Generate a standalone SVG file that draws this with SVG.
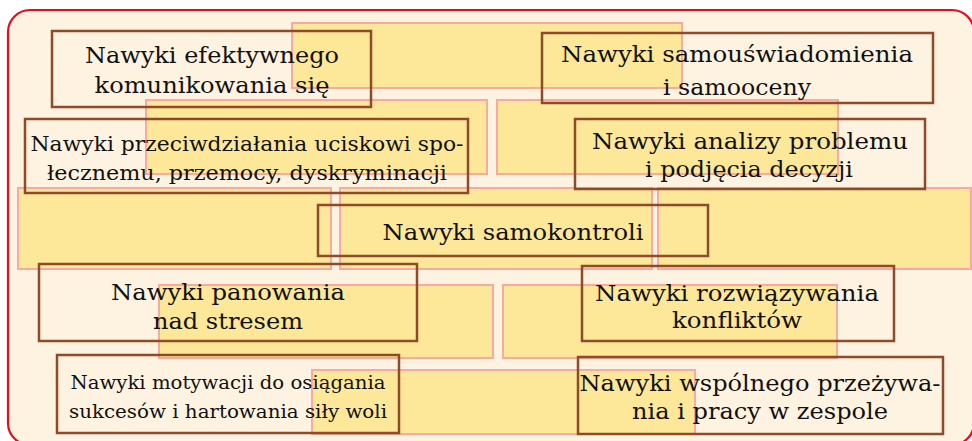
<svg xmlns="http://www.w3.org/2000/svg" width="972" height="441" viewBox="0 0 972 441">
<style>
.frame{fill:#fef3e0;stroke:#e30d1c;stroke-width:2.2}
.brick{fill:#fde899;stroke:#f6aaa2;stroke-width:2}
.box{fill:none;stroke:#8f4a2a;stroke-width:2.5}
text{font-family:"DejaVu Serif","Liberation Serif",serif;fill:#111;text-anchor:middle}
.L{font-size:22.5px}
.M{font-size:20.5px}
.S{font-size:19px}
</style>
<rect width="972" height="441" fill="#ffffff"/>
<rect class="frame" x="8" y="10" width="966" height="435" rx="22"/>
<g id="bricks">
<rect class="brick" x="292" y="23" width="390" height="65"/>
<rect class="brick" x="146" y="100" width="341" height="74"/>
<rect class="brick" x="497" y="100" width="341" height="74"/>
<rect class="brick" x="18" y="188" width="313" height="81"/>
<rect class="brick" x="340" y="188" width="312" height="81"/>
<rect class="brick" x="658" y="188" width="313" height="81"/>
<rect class="brick" x="159" y="285" width="334" height="73"/>
<rect class="brick" x="503" y="285" width="334" height="73"/>
<rect class="brick" x="312" y="370" width="383" height="64"/>
</g>
<g id="n1">
<rect class="box" x="52" y="31" width="319" height="76"/>
<text class="L" x="212" y="63" textLength="254" lengthAdjust="spacingAndGlyphs">Nawyki efektywnego</text>
<text class="L" x="212" y="93" textLength="235" lengthAdjust="spacingAndGlyphs">komunikowania się</text>
</g>
<g id="n2">
<rect class="box" x="542" y="33" width="391" height="70"/>
<text class="L" x="737" y="62" textLength="352" lengthAdjust="spacingAndGlyphs">Nawyki samouświadomienia</text>
<text class="L" x="737" y="95" textLength="148" lengthAdjust="spacingAndGlyphs">i samooceny</text>
</g>
<g id="n3">
<rect class="box" x="25" y="119" width="443" height="74"/>
<text class="M" x="247" y="151" textLength="433" lengthAdjust="spacingAndGlyphs">Nawyki przeciwdziałania uciskowi spo-</text>
<text class="M" x="247" y="180" textLength="400" lengthAdjust="spacingAndGlyphs">łecznemu, przemocy, dyskryminacji</text>
</g>
<g id="n4">
<rect class="box" x="575" y="119" width="350" height="70"/>
<text class="L" x="750" y="149" textLength="316" lengthAdjust="spacingAndGlyphs">Nawyki analizy problemu</text>
<text class="L" x="749" y="177" textLength="208" lengthAdjust="spacingAndGlyphs">i podjęcia decyzji</text>
</g>
<g id="n5">
<rect class="box" x="318" y="205" width="390" height="51"/>
<text class="L" x="513" y="240" textLength="261" lengthAdjust="spacingAndGlyphs">Nawyki samokontroli</text>
</g>
<g id="n6">
<rect class="box" x="39" y="264" width="378" height="77"/>
<text class="L" x="228" y="300" textLength="234" lengthAdjust="spacingAndGlyphs">Nawyki panowania</text>
<text class="L" x="228" y="329" textLength="150" lengthAdjust="spacingAndGlyphs">nad stresem</text>
</g>
<g id="n7">
<rect class="box" x="582" y="266" width="312" height="75"/>
<text class="L" x="737" y="301" textLength="284" lengthAdjust="spacingAndGlyphs">Nawyki rozwiązywania</text>
<text class="L" x="737" y="328" textLength="130" lengthAdjust="spacingAndGlyphs">konfliktów</text>
</g>
<g id="n8">
<rect class="box" x="57" y="355" width="342" height="78"/>
<text class="S" x="228" y="389" textLength="315" lengthAdjust="spacingAndGlyphs">Nawyki motywacji do osiągania</text>
<text class="S" x="228" y="418" textLength="318" lengthAdjust="spacingAndGlyphs">sukcesów i hartowania siły woli</text>
</g>
<g id="n9">
<rect class="box" x="578" y="357" width="365" height="77"/>
<text class="L" x="760" y="391" textLength="361" lengthAdjust="spacingAndGlyphs">Nawyki wspólnego przeżywa-</text>
<text class="L" x="760" y="419" textLength="256" lengthAdjust="spacingAndGlyphs">nia i pracy w zespole</text>
</g>
</svg>
